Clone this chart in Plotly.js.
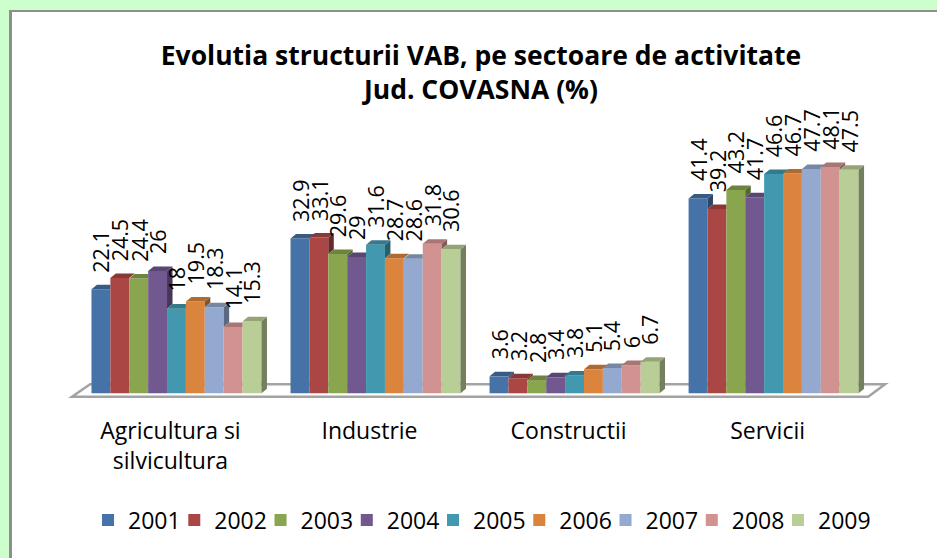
<!DOCTYPE html>
<html><head><meta charset="utf-8">
<script src="https://cdn.plot.ly/plotly-3.0.1.min.js"></script>
<style>
html,body{margin:0;padding:0;background:#ccffcc;width:937px;height:558px;overflow:hidden}
#frame{position:absolute;left:9px;top:10px;width:940px;height:560px;border-left:3px solid #8e8e8e;border-top:2px solid #8e8e8e;background:#fff}
#chart{width:925px;height:546px}
</style></head><body>
<div id="frame"><div id="chart"></div></div>
<script>
// ---- data ----
const categories = ['Agricultura si<br>silvicultura', 'Industrie', 'Constructii', 'Servicii'];
const years = ['2001','2002','2003','2004','2005','2006','2007','2008','2009'];
const s2001 = [22.1, 32.9, 3.6, 41.4];
const s2002 = [24.5, 33.1, 3.2, 39.2];
const s2003 = [24.4, 29.6, 2.8, 43.2];
const s2004 = [26,   29,   3.4, 41.7];
const s2005 = [18,   31.6, 3.8, 46.6];
const s2006 = [19.5, 28.7, 5.1, 46.7];
const s2007 = [18.3, 28.6, 5.4, 47.7];
const s2008 = [14.1, 31.8, 6,   48.1];
const s2009 = [15.3, 30.6, 6.7, 47.5];
const series = [s2001, s2002, s2003, s2004, s2005, s2006, s2007, s2008, s2009];
const colors = ['#4572A7','#AA4643','#89A54E','#71588F','#4198AF','#DB843D','#93A9CF','#D19392','#B9CD96'];

// ---- styling ----
const FONT = '"Open Sans", "Noto Sans", sans-serif';
const bargap = 0.146;
const n = series.length;
const bw = (1 - bargap) / n;
const DX = 0.0276, DY = 0.957;   // 3D depth offsets
const catIdx = categories.map((_, i) => i);

function shade(hex, f) {
  const r = Math.round(parseInt(hex.slice(1,3),16)*f);
  const g = Math.round(parseInt(hex.slice(3,5),16)*f);
  const b = Math.round(parseInt(hex.slice(5,7),16)*f);
  return 'rgb(' + r + ',' + g + ',' + b + ')';
}
function barLeft(i, c) { return c + (i - (n - 1) / 2) * bw - bw / 2; }

const traces = [];
series.forEach((vals, i) => {
  const t = {type: 'bar', name: years[i], x: catIdx, y: vals,
    marker: {color: colors[i], line: {width: 0}}, hoverinfo: 'skip'};
  if (i === n - 1) t.legendwidth = 60;
  traces.push(t);
});
// side faces
series.forEach((vals, i) => {
  const xs = [], ys = [];
  vals.forEach((v, c) => {
    const xr = barLeft(i, c) + bw;
    const next = i < n - 1 ? series[i + 1][c] : 0;
    if (v > next) {
      xs.push(xr, xr + DX, xr + DX, xr, xr, null);
      ys.push(next, next + DY, v + DY, v, next, null);
    }
  });
  const col = shade(colors[i], 0.62);
  traces.push({type: 'scatter', mode: 'lines', x: xs, y: ys, fill: 'toself', fillcolor: col,
    line: {width: 0, color: col}, showlegend: false, hoverinfo: 'skip'});
});
// top faces, lower ones first
const tops = [];
series.forEach((vals, i) => vals.forEach((v, c) => tops.push({v: v, i: i, c: c})));
tops.sort((a, b) => a.v - b.v);
tops.forEach(t => {
  const xl = barLeft(t.i, t.c), xr = xl + bw;
  const next = t.i < n - 1 ? series[t.i + 1][t.c] : -1e9;
  const vc = Math.min(Math.max(next, t.v), t.v + DY);
  const px = xr + (vc - t.v) / DY * DX;
  const col = shade(colors[t.i], 0.8);
  traces.push({type: 'scatter', mode: 'lines',
    x: [xl, xl + DX, xr + DX, px, xr, xr, xl],
    y: [t.v, t.v + DY, t.v + DY, vc, vc, t.v, t.v],
    fill: 'toself', fillcolor: col, line: {width: 0, color: col}, showlegend: false, hoverinfo: 'skip'});
});

// value labels
const annotations = [];
series.forEach((vals, i) => vals.forEach((v, c) => {
  annotations.push({x: barLeft(i, c) + bw / 2, y: v, text: String(v), textangle: -90,
    showarrow: false, xanchor: 'center', yanchor: 'bottom', yshift: 15,
    font: {family: FONT, size: 21.5, color: '#000'}});
}));

const layout = {
  width: 925, height: 546,
  margin: {l: 55, r: 44, t: 108, b: 160},
  paper_bgcolor: '#ffffff', plot_bgcolor: 'rgba(0,0,0,0)',
  font: {family: FONT, color: '#000'},
  title: {text: 'Evolutia structurii VAB, pe sectoare de activitate<br>Jud. COVASNA (%)',
    font: {family: FONT, size: 26.5, color: '#000', weight: 'bold'},
    xref: 'container', x: 0.507, xanchor: 'center', yref: 'container', y: 0.9035, yanchor: 'top'},
  barmode: 'group', bargap: bargap, bargroupgap: 0,
  xaxis: {type: 'linear', range: [-0.55, 3.6], tickmode: 'array', tickvals: catIdx, ticktext: categories,
    showgrid: false, zeroline: false, showline: false, ticks: '', ticklabelshift: -6, ticklabelstandoff: 17,
    tickfont: {family: FONT, size: 23, color: '#000'}, fixedrange: true},
  yaxis: {range: [-1, 58.1], visible: false, fixedrange: true},
  showlegend: true,
  legend: {orientation: 'h', xref: 'container', yref: 'container', x: 0.0822, y: 0.0696,
    xanchor: 'left', yanchor: 'middle', font: {family: FONT, size: 23, color: '#000'},
    entrywidth: 41.25, bgcolor: 'rgba(0,0,0,0)'},
  shapes: [{type: 'path', xref: 'x', yref: 'y', layer: 'below',
    path: 'M -0.525,-0.744 L -0.434,1.913 L 3.56,1.913 L 3.475,-0.744 Z',
    fillcolor: '#ffffff', line: {color: '#a3a3a3', width: 2.5}}],
  annotations: annotations
};
Plotly.newPlot('chart', traces, layout, {displayModeBar: false, staticPlot: true});
</script>
</body></html>
